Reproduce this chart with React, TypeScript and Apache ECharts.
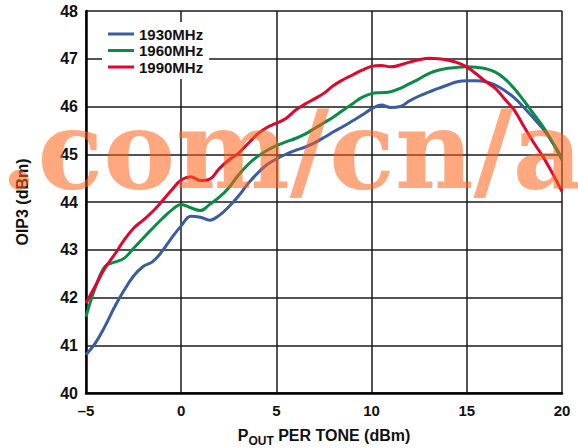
import React, { useEffect, useRef } from "react";
import * as echarts from "echarts";

const xValues = [
  -5, -4.5, -4, -3.5, -3, -2.5, -2, -1.5, -1, -0.5, 0, 0.5, 1, 1.5, 2, 2.5, 3, 3.5, 4, 4.5,
  5, 5.5, 6, 6.5, 7, 7.5, 8, 8.5, 9, 9.5, 10, 10.5, 11, 11.5, 12, 12.5, 13, 13.5, 14, 14.5,
  15, 15.5, 16, 16.5, 17, 17.5, 18, 18.5, 19, 19.5, 20,
];

const oip3_1930 = [
  40.8, 41.05, 41.4, 41.8, 42.15, 42.45, 42.65, 42.75, 42.97, 43.25, 43.5, 43.7, 43.68, 43.62, 43.72, 43.9, 44.12, 44.38, 44.6, 44.78,
  44.9, 45.0, 45.08, 45.15, 45.24, 45.35, 45.47, 45.58, 45.7, 45.82, 45.95, 46.03, 45.98, 46.0, 46.12, 46.22, 46.3, 46.38, 46.45, 46.52,
  46.54, 46.54, 46.52, 46.45, 46.33, 46.18, 45.98, 45.76, 45.53, 45.25, 44.92,
];

const oip3_1960 = [
  41.6, 42.22, 42.65, 42.74, 42.82, 43.03, 43.24, 43.45, 43.65, 43.83, 43.95, 43.88, 43.82, 43.95, 44.1, 44.3, 44.56, 44.78, 44.95, 45.08,
  45.18, 45.26, 45.33, 45.42, 45.54, 45.66, 45.78, 45.92, 46.06, 46.19, 46.27, 46.29, 46.31, 46.38, 46.48, 46.58, 46.69, 46.76, 46.8, 46.82,
  46.83, 46.82, 46.79, 46.72, 46.58, 46.37, 46.12, 45.85, 45.58, 45.25, 44.88,
];

const oip3_1990 = [
  41.88, 42.25, 42.62, 42.9, 43.2, 43.45, 43.62, 43.8, 44.02, 44.25, 44.46, 44.53, 44.45, 44.48, 44.7, 44.88, 45.02, 45.22, 45.42, 45.56,
  45.65, 45.75, 45.92, 46.05, 46.16, 46.28, 46.44, 46.56, 46.66, 46.76, 46.84, 46.86, 46.83, 46.87, 46.93, 46.98, 47.01, 47.0, 46.97, 46.92,
  46.83, 46.68, 46.52, 46.38, 46.15, 45.92, 45.58, 45.25, 44.95, 44.6, 44.22,
];

const seriesNames = ["1930MHz", "1960MHz", "1990MHz"];
const seriesColors = ["#3B5C9E", "#0B8C46", "#E2062F"];
const seriesValues = [oip3_1930, oip3_1960, oip3_1990];

const watermarkText = ".com/cn/a";
const xAxisTitleMain = "P";
const xAxisTitleSub = "OUT";
const xAxisTitleRest = " PER TONE (dBm)";
const yAxisTitle = "OIP3 (dBm)";

const FONT = "'Liberation Sans', Arial, Helvetica, sans-serif";

export default function App() {
  const ref = useRef<HTMLDivElement>(null);

  useEffect(() => {
    if (!ref.current) return;
    const chart = echarts.init(ref.current, undefined, { renderer: "svg" });

    const series = seriesNames.map((name, i) => ({
      name,
      type: "line",
      data: xValues.map((x, j) => [x, seriesValues[i][j]]),
      smooth: 0.4,
      showSymbol: false,
      symbol: "none",
      lineStyle: { color: seriesColors[i], width: 3 },
      itemStyle: { color: seriesColors[i] },
      z: 3 + i,
    }));

    chart.setOption({
      animation: false,
      backgroundColor: "#ffffff",
      grid: { left: 86, right: 16, top: 11, bottom: 55, containLabel: false, outerBoundsMode: "none" },
      legend: {
        data: seriesNames,
        orient: "vertical",
        left: 102,
        top: 22,
        padding: [4, 6, 4, 6],
        backgroundColor: "#ffffff",
        icon: "rect",
        itemWidth: 26,
        itemHeight: 3,
        itemGap: 0.5,
        textStyle: {
          fontFamily: FONT,
          fontWeight: "bold",
          fontSize: 15,
          color: "#111",
          lineHeight: 16,
        },
        selectedMode: false,
        z: 10,
      },
      xAxis: {
        type: "value",
        min: -5,
        max: 20,
        interval: 5,
        name: "{p|" + xAxisTitleMain + "}{s|" + xAxisTitleSub + "}{p|" + xAxisTitleRest + "}",
        nameLocation: "middle",
        nameGap: 34,
        nameTextStyle: {
          rich: {
            p: { fontFamily: FONT, fontWeight: "bold", fontSize: 16, color: "#111", verticalAlign: "bottom", lineHeight: 16 },
            s: { fontFamily: FONT, fontWeight: "bold", fontSize: 12, color: "#111", verticalAlign: "bottom", lineHeight: 16, padding: [0, 0, -4, 0] },
          },
        },
        axisLine: { show: true, onZero: false, lineStyle: { color: "#000", width: 2.5 } },
        axisTick: { show: false },
        axisLabel: {
          margin: 10,
          fontFamily: FONT,
          fontWeight: "bold",
          fontSize: 15,
          color: "#111",
          formatter: (v: number) => String(v).replace("-", "\u2013"),
        },
        splitLine: { show: true, lineStyle: { color: "#1a1a1a", width: 1.5 } },
      },
      yAxis: {
        type: "value",
        min: 40,
        max: 48,
        interval: 1,
        name: yAxisTitle,
        nameLocation: "middle",
        nameGap: 56,
        nameTextStyle: { fontFamily: FONT, fontWeight: "bold", fontSize: 16, color: "#111" },
        axisLine: { show: true, onZero: false, lineStyle: { color: "#000", width: 2.5 } },
        axisTick: { show: false },
        axisLabel: { margin: 8, fontFamily: FONT, fontWeight: "bold", fontSize: 16, color: "#111" },
        splitLine: { show: true, lineStyle: { color: "#1a1a1a", width: 1.5 } },
      },
      graphic: [
        {
          type: "text",
          left: 0,
          top: 96,
          z: 100,
          silent: true,
          style: {
            text: watermarkText,
            fontFamily: "'DejaVu Serif', 'Liberation Serif', serif",
            fontWeight: "bold",
            fontSize: 108,
            fill: "rgba(255, 95, 20, 0.55)",
          },
        },
      ],
      series,
    });

    return () => chart.dispose();
  }, []);

  return (
    <div
      ref={ref}
      style={{ position: "fixed", left: 0, top: 0, width: 578, height: 448 }}
    />
  );
}
